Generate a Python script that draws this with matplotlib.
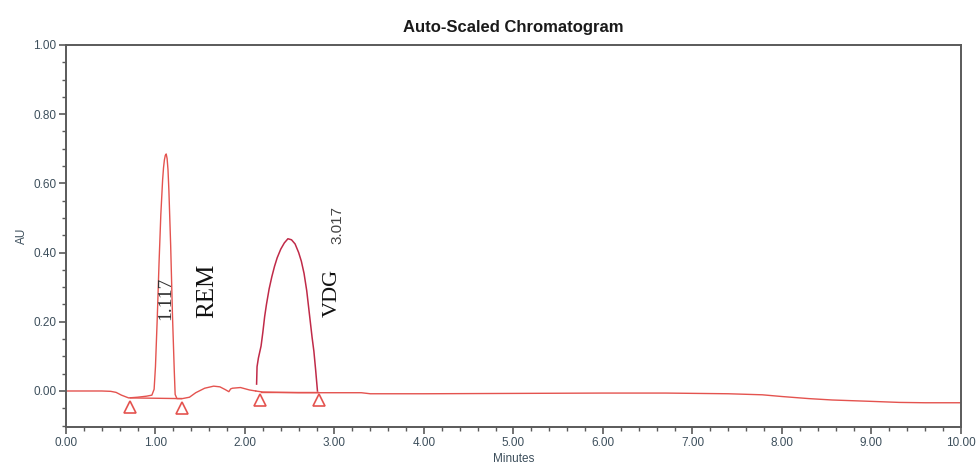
import matplotlib
matplotlib.use("Agg")
import matplotlib.pyplot as plt
from matplotlib.ticker import MultipleLocator, FormatStrFormatter

# Trace (minutes, AU)
tiempo = [0.00, 0.20, 0.40, 0.50, 0.56, 0.62, 0.70, 0.80, 0.90, 0.96, 0.985,
          1.00, 1.02, 1.04, 1.06, 1.08, 1.09, 1.10, 1.11, 1.12, 1.13, 1.14,
          1.15, 1.17, 1.19, 1.21, 1.22, 1.24, 1.30, 1.38, 1.45, 1.55, 1.65,
          1.72, 1.78, 1.82, 1.84, 1.86, 1.95, 2.05, 2.12]
senal = [0.000, 0.000, 0.000, -0.001, -0.004, -0.012, -0.020, -0.018, -0.015,
         -0.012, 0.005, 0.070, 0.210, 0.370, 0.510, 0.610, 0.645, 0.668, 0.681,
         0.685, 0.672, 0.640, 0.580, 0.420, 0.220, 0.060, -0.010, -0.022,
         -0.022, -0.018, -0.005, 0.008, 0.014, 0.012, 0.004, -0.002, 0.006,
         0.008, 0.010, 0.003, 0.000]

# VDG peak (drawn darker in the reference)
tiempo_vdg = [2.13, 2.135, 2.15, 2.18, 2.20, 2.22, 2.24, 2.27, 2.30, 2.33,
              2.36, 2.40, 2.44, 2.48, 2.52, 2.56, 2.60, 2.63, 2.66, 2.69,
              2.71, 2.73, 2.75, 2.77, 2.79, 2.80, 2.81]
senal_vdg = [0.020, 0.070, 0.095, 0.130, 0.170, 0.215, 0.250, 0.295, 0.330,
             0.360, 0.385, 0.410, 0.428, 0.440, 0.437, 0.425, 0.400, 0.375,
             0.340, 0.290, 0.245, 0.200, 0.155, 0.115, 0.060, 0.030, 0.000]

# Tail of the run
tiempo_cola = [2.12, 2.20, 2.40, 2.60, 3.00, 3.30, 3.40, 4.00, 5.00, 6.00,
               6.70, 7.40, 7.78, 8.00, 8.30, 8.56, 9.00, 9.31, 9.60, 10.00]
senal_cola = [0.000, -0.003, -0.004, -0.005, -0.005, -0.005, -0.008, -0.008,
              -0.007, -0.006, -0.006, -0.008, -0.011, -0.016, -0.022, -0.026,
              -0.030, -0.033, -0.034, -0.034]

# Integration baselines and peak markers
base_x = [[0.72, 1.29], [2.18, 2.82]]
base_y = [[-0.020, -0.022], [-0.003, -0.003]]
marca_x = [0.72, 1.295, 2.17, 2.83]
marca_y = [-0.045, -0.048, -0.027, -0.026]

rojo = "#e4534f"
rojo_osc = "#c02a48"

fig = plt.figure(figsize=(9.8, 4.73), dpi=100)
ax = fig.add_axes([0.0673, 0.0973, 0.9133, 0.8076])

ax.plot(tiempo, senal, color=rojo, lw=1.0)
ax.plot(tiempo_cola, senal_cola, color=rojo, lw=1.0)
ax.plot(tiempo_vdg, senal_vdg, color=rojo_osc, lw=1.1)
for bx, by in zip(base_x, base_y):
    ax.plot(bx, by, color=rojo, lw=1.0)
ax.plot(marca_x, marca_y, ls="none", marker="^", ms=9, mfc="none",
        mec=rojo, mew=1.2)

# Peak annotations
ax.text(1.118, 0.268, "1.117", rotation=90, ha="center", va="center",
        family="Liberation Serif", fontsize=14, color="#333333")
ax.text(1.575, 0.29, "REM", rotation=90, ha="center", va="center",
        family="Liberation Serif", fontsize=18, color="#111111")
ax.text(2.98, 0.283, "VDG", rotation=90, ha="center", va="center",
        family="Liberation Serif", fontsize=16, color="#111111")
ax.text(3.035, 0.48, "3.017", rotation=90, ha="center", va="center",
        family="Liberation Sans", fontsize=11, color="#444444")

ax.set_xlim(0, 10)
ax.set_ylim(-0.104, 1.0)
ax.xaxis.set_major_locator(MultipleLocator(1))
ax.xaxis.set_minor_locator(MultipleLocator(0.2))
ax.yaxis.set_major_locator(MultipleLocator(0.2))
ax.yaxis.set_minor_locator(MultipleLocator(0.05))
ax.xaxis.set_major_formatter(FormatStrFormatter("%.2f"))
ax.yaxis.set_major_formatter(FormatStrFormatter("%.2f"))

for s in ax.spines.values():
    s.set_color("#5a5a5a")
    s.set_linewidth(1.4)
ax.tick_params(which="major", direction="out", length=5, width=1.2,
               color="#5a5a5a", labelsize=8.5, labelcolor="#3d4f5c", pad=2)
ax.tick_params(which="minor", direction="out", length=3, width=1.0,
               color="#5a5a5a")
for lab in ax.get_xticklabels() + ax.get_yticklabels():
    lab.set_family("Liberation Sans")

ax.set_xlabel("Minutes", family="Liberation Sans", fontsize=8.5,
              color="#3d4f5c", labelpad=3)
ax.set_ylabel("AU", family="Liberation Sans", fontsize=8.5,
              color="#3d4f5c", labelpad=4)
ax.set_title("Auto-Scaled Chromatogram", family="Liberation Sans",
             fontweight="bold", fontsize=12, color="#1a1a1a", pad=9)

fig.savefig("out.png", dpi=100)
